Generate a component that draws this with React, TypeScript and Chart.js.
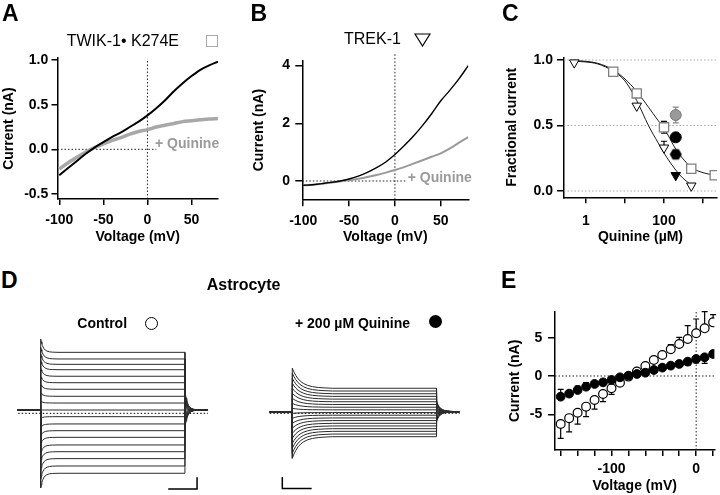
import React, { useEffect, useRef } from "react";
import { Chart, registerables } from "chart.js";

Chart.register(...registerables);

const FONT = "'Liberation Sans', Arial, Helvetica, sans-serif";

// ===== Panels A & B: ramp I-V relations =====
const rampVoltage = [-100, -90, -80, -70, -60, -50, -40, -30, -20, -10, 0, 10, 20, 30, 40, 50, 60, 70, 80];
const twikControl = [-0.29, -0.21, -0.13, -0.05, 0.02, 0.08, 0.14, 0.19, 0.25, 0.31, 0.38, 0.46, 0.55, 0.65, 0.74, 0.82, 0.89, 0.94, 0.98];
const twikQuinine = [-0.22, -0.15, -0.09, -0.03, 0.02, 0.06, 0.1, 0.13, 0.17, 0.2, 0.22, 0.25, 0.27, 0.29, 0.31, 0.32, 0.33, 0.34, 0.345];
const trekControl = [-0.15, -0.13, -0.09, -0.05, 0.0, 0.07, 0.17, 0.3, 0.46, 0.66, 0.92, 1.22, 1.55, 1.92, 2.33, 2.78, 3.15, 3.55, 4.0];
const trekQuinine = [-0.15, -0.13, -0.1, -0.06, -0.02, 0.03, 0.08, 0.14, 0.21, 0.29, 0.38, 0.48, 0.6, 0.72, 0.84, 0.96, 1.13, 1.33, 1.52];

// ===== Panel C: dose-response (concentrations in µM) =====
const trekConc = [0.5, 20, 100, 500];
const trekFrac = [0.98, 0.65, 0.33, 0.04];
const trekErrUp = [0, 0, 0.05, 0];
const twikConc = [5, 20, 100, 500, 2000];
const twikFrac = [0.91, 0.745, 0.486, 0.17, 0.12];
const twikErr = [0, 0, 0.045, 0, 0];
const trekFitConc = [0.5, 1, 2, 5, 10, 20, 40, 70, 100, 200, 300, 500];
const trekFitFrac = [0.99, 0.985, 0.97, 0.915, 0.84, 0.69, 0.5, 0.37, 0.29, 0.16, 0.1, 0.045];
const twikFitConc = [0.5, 1, 2, 5, 10, 20, 40, 70, 100, 200, 300, 500, 1000, 2000];
const twikFitFrac = [0.995, 0.99, 0.975, 0.925, 0.855, 0.76, 0.64, 0.54, 0.48, 0.32, 0.25, 0.18, 0.14, 0.12];
const otherConc = 200;
const grayCircleFrac = 0.58;
const grayCircleErr = 0.06;
const blackCircleFrac = 0.41;
const blackHexFrac = 0.28;
const blackTriFrac = 0.12;
const cConcRange = [0.273, 2286];
const cTickLabels = ["1", " ", "100", " "];

// ===== Panel E: astrocyte I-V =====
const stepVoltages = [-160, -150, -140, -130, -120, -110, -100, -90, -80, -70, -60, -50, -40, -30, -20, -10, 0, 10, 20];
const astroControl = [-6.27, -5.5, -4.8, -4.0, -3.13, -2.35, -1.6, -0.87, -0.08, 0.57, 1.3, 2.09, 2.74, 3.48, 4.18, 4.83, 5.57, 6.22, 7.0];
const astroControlErr = [-1.87, -1.8, -1.47, -1.3, -1.2, -1.0, -0.8, -0.3, 0, 0, 0, 0, 0.3, 0.6, 0.87, 1.74, 1.87, 2.17, 1.0];
const astroQuinine = [-2.7, -2.3, -1.83, -1.4, -1.04, -0.83, -0.52, -0.17, 0.04, 0.26, 0.43, 0.78, 1.09, 1.35, 1.57, 1.87, 2.22, 2.44, 2.87];
const astroQuinineErr = [0.96, 0, 0.52, 0.53, 0.2, 0, 0, 0, 0, 0, 0, 0, 0, 0, -0.3, -0.44, -0.5, -0.79, 0];

// ===== Panel D: current traces (nA vs ms) =====
const protocolTimes = [-40, 0, 250, 290]; // holding start, step on, step off, end
const controlHold = 0.36;
const controlLevels = [-6.59, -5.79, -4.98, -4.22, -3.48, -2.64, -1.91, -1.17, -0.37, 0.36, 1.13, 1.87, 2.64, 3.36, 4.07, 4.79, 5.38, 5.97, 6.7];
const controlPeaks = [-8.19, -7.2, -6.21, -5.27, -4.36, -3.33, -2.43, -1.52, -0.54, 0.36, 1.31, 2.22, 3.16, 4.05, 4.92, 5.81, 6.53, 7.26, 8.16];
const quinineHold = 0.18;
const quinineLevels = [-2.57, -2.28, -1.98, -1.69, -1.39, -1.1, -0.8, -0.51, -0.21, 0.08, 0.38, 0.67, 0.97, 1.27, 1.56, 1.86, 2.15, 2.45, 2.75];
const quininePeaks = [-4.94, -4.4, -3.84, -3.3, -2.74, -2.2, -1.64, -1.1, -0.55, -0.01, 0.55, 1.09, 1.65, 2.21, 2.75, 3.3, 3.84, 4.4, 4.96];
const controlDecayT = [0, 1, 2, 3, 4, 6, 8, 11, 15, 20, 30];
const controlDecayF = [1, 0.8, 0.64, 0.51, 0.41, 0.26, 0.17, 0.09, 0.04, 0.015, 0];
const quinineDecayT = [0, 3, 6, 10, 15, 20, 27, 35, 45, 55, 70];
const quinineDecayF = [1, 0.8, 0.64, 0.47, 0.33, 0.23, 0.14, 0.08, 0.04, 0.02, 0];
const quinineTailT = [0, 2, 4, 7, 10, 14, 19, 25, 32, 40];
const quinineTailF = [1, 0.7, 0.5, 0.32, 0.2, 0.11, 0.055, 0.025, 0.01, 0];
const controlTailScale = 1.3;
const quinineTailScale = 0.5;
const controlScaleBarT = [221, 271];
const controlScaleBarI = [-8.32, -7.03];
const quinineScaleBarT = [-17.3, 33.6];
const quinineScaleBarI = [-8.27, -6.99];

// ---------- helpers ----------
const tickFont = { family: FONT, size: 14, weight: "bold" as const };
const titleFont = { family: FONT, size: 14, weight: "bold" as const, lineHeight: 1.2 };

const pts = (xs: number[], ys: number[]) => xs.map((x, i) => ({ x, y: ys[i] }));
// decades axis for panel C: x is log10(concentration)
const logPts = (xs: number[], ys: number[]) => xs.map((x, i) => ({ x: Math.log10(x), y: ys[i] }));

type AxisOpts = {
  min: number;
  max: number;
  step: number;
  size: number;
  tickLen: number;
  labelPad: number;
  title: string;
  titlePad: number;
  horizontal: boolean;
  fmt: (v: number, i: number) => string;
};

function axis(o: AxisOpts) {
  return {
    type: "linear",
    min: o.min,
    max: o.max,
    border: { display: true, color: "#000", width: 1.5 },
    grid: {
      display: true,
      drawOnChartArea: false,
      drawTicks: true,
      tickLength: o.tickLen,
      tickColor: "#000",
      tickWidth: 1.5,
      color: "#000",
      lineWidth: 1.5,
    },
    ticks: {
      stepSize: o.step,
      includeBounds: false,
      autoSkip: false,
      maxRotation: 0,
      minRotation: 0,
      padding: o.labelPad,
      color: "#000",
      font: tickFont,
      callback: (v: any, i: number) => o.fmt(Number(v), i),
    },
    title: {
      display: true,
      text: o.title,
      color: "#000",
      font: titleFont,
      padding: o.horizontal ? { top: 0, bottom: o.titlePad } : { top: o.titlePad, bottom: 0 },
    },
    afterFit: (s: any) => {
      if (o.horizontal) s.height = o.size;
      else s.width = o.size;
    },
  };
}

const errorBarPlugin = {
  id: "errorBars",
  beforeDatasetsDraw(chart: any) {
    const ctx = chart.ctx;
    chart.data.datasets.forEach((ds: any, i: number) => {
      if (!ds.errBars) return;
      const meta = chart.getDatasetMeta(i);
      const xs = chart.scales[meta.xAxisID];
      const ys = chart.scales[meta.yAxisID];
      ctx.save();
      ctx.strokeStyle = ds.errColor || "#000";
      ctx.lineWidth = 1.2;
      ds.data.forEach((p: any, j: number) => {
        const offs: number[] = ds.errBars[j] || [];
        offs.forEach((e) => {
          if (!e) return;
          const px = xs.getPixelForValue(p.x);
          const y0 = ys.getPixelForValue(p.y);
          const y1 = ys.getPixelForValue(p.y + e);
          ctx.beginPath();
          ctx.moveTo(px, y0);
          ctx.lineTo(px, y1);
          ctx.moveTo(px - 3, y1);
          ctx.lineTo(px + 3, y1);
          ctx.stroke();
        });
      });
      ctx.restore();
    });
  },
};

function baseOptions(padRight: number, padTop: number, scales: any) {
  return {
    animation: false,
    responsive: false,
    maintainAspectRatio: false,
    devicePixelRatio: 1,
    events: [],
    layout: { autoPadding: false, padding: { left: 0, right: padRight, top: padTop, bottom: 0 } },
    plugins: { legend: { display: false }, tooltip: { enabled: false }, title: { display: false } },
    elements: { point: { radius: 0 } },
    scales,
  };
}

const dotted = (data: any[], color = "#222", clip: any = undefined) => ({
  data,
  borderColor: color,
  borderWidth: 1,
  borderDash: [1.5, 2],
  pointRadius: 0,
  tension: 0,
  ...(clip === undefined ? {} : { clip }),
});

const curveOf = (data: any[], color: string, width: number) => ({
  data,
  borderColor: color,
  borderWidth: width,
  pointRadius: 0,
  cubicInterpolationMode: "monotone",
});

// ---------- chart configs ----------
function configA() {
  return {
    type: "line",
    data: {
      datasets: [
        curveOf(pts(rampVoltage, twikControl), "#000", 2),
        curveOf(pts(rampVoltage, twikQuinine), "#a8a8a8", 3.5),
        dotted([{ x: 0, y: -0.556 }, { x: 0, y: 1.0 }]),
        dotted([{ x: -102, y: 0 }, { x: 10, y: 0 }]),
      ],
    },
    options: baseOptions(22, 58.2, {
      x: axis({ min: -102, max: 80, step: 50, size: 56, tickLen: 6, labelPad: 6.6, title: "Voltage (mV)", titlePad: 9.1, horizontal: true, fmt: (v) => String(Math.round(v)) }),
      y: axis({ min: -0.556, max: 1.02, step: 0.5, size: 57.5, tickLen: 6, labelPad: 3.2, title: "Current (nA)", titlePad: 1.1, horizontal: false, fmt: (v) => v.toFixed(1) }),
    }),
  };
}

function configB() {
  return {
    type: "line",
    data: {
      datasets: [
        curveOf(pts(rampVoltage, trekControl), "#000", 1.4),
        curveOf(pts(rampVoltage, trekQuinine), "#9a9a9a", 2),
        dotted([{ x: 0, y: -0.635 }, { x: 0, y: 4.4 }], "#222", false),
        dotted([{ x: -101, y: 0 }, { x: 13, y: 0 }]),
      ],
    },
    options: baseOptions(6.7, 61, {
      x: axis({ min: -101, max: 80, step: 50, size: 55.7, tickLen: 7, labelPad: 6.1, title: "Voltage (mV)", titlePad: 9.1, horizontal: true, fmt: (v) => String(Math.round(v)) }),
      y: axis({ min: -0.635, max: 4.16, step: 2, size: 62.3, tickLen: 7, labelPad: 5.3, title: "Current (nA)", titlePad: 10.9, horizontal: false, fmt: (v) => String(Math.round(v)) }),
    }),
  };
}

function hexagonImage(r: number, color: string) {
  const c = document.createElement("canvas");
  const s = Math.ceil(2 * r + 2);
  c.width = s;
  c.height = s;
  const g = c.getContext("2d")!;
  g.fillStyle = color;
  g.beginPath();
  for (let k = 0; k < 6; k++) {
    const a = (Math.PI / 3) * k;
    const px = s / 2 + r * Math.cos(a);
    const py = s / 2 + r * Math.sin(a);
    if (k === 0) g.moveTo(px, py);
    else g.lineTo(px, py);
  }
  g.closePath();
  g.fill();
  return c;
}

function configC() {
  const xMin = Math.log10(cConcRange[0]);
  const xMax = Math.log10(cConcRange[1]);
  return {
    type: "line",
    data: {
      datasets: [
        {
          data: logPts([otherConc], [blackTriFrac]),
          showLine: false,
          pointStyle: "triangle",
          pointRotation: 180,
          pointRadius: 5.5,
          pointBackgroundColor: "#000",
          pointBorderColor: "#000",
          pointBorderWidth: 1,
        },
        {
          data: logPts([otherConc], [blackHexFrac]),
          showLine: false,
          pointStyle: hexagonImage(6, "#000"),
          pointRadius: 6,
        },
        {
          data: logPts([otherConc], [blackCircleFrac]),
          showLine: false,
          pointStyle: "circle",
          pointRadius: 5.5,
          pointBackgroundColor: "#000",
          pointBorderColor: "#000",
        },
        {
          data: logPts([otherConc], [grayCircleFrac]),
          showLine: false,
          pointStyle: "circle",
          pointRadius: 5.5,
          pointBackgroundColor: "#9a9a9a",
          pointBorderColor: "#777",
          pointBorderWidth: 1,
          errBars: [[grayCircleErr, -grayCircleErr]],
          errColor: "#888",
        },
        {
          data: logPts(twikConc, twikFrac),
          showLine: false,
          pointStyle: "rect",
          pointRadius: 6.5,
          pointBackgroundColor: "#fff",
          pointBorderColor: "#808080",
          pointBorderWidth: 1.3,
          errBars: twikErr.map((e) => [e, -e]),
        },
        {
          data: logPts(trekConc, trekFrac),
          showLine: false,
          pointStyle: "triangle",
          pointRotation: 180,
          pointRadius: 5.5,
          pointBackgroundColor: "#fff",
          pointBorderColor: "#000",
          pointBorderWidth: 1,
          errBars: trekErrUp.map((e) => [e]),
        },
        curveOf(logPts(trekFitConc, trekFitFrac), "#000", 0.9),
        curveOf(logPts(twikFitConc, twikFitFrac), "#000", 0.9),
        dotted([{ x: xMin, y: 1 }, { x: xMax, y: 1 }], "#aaa"),
        dotted([{ x: xMin, y: 0.5 }, { x: xMax, y: 0.5 }], "#aaa"),
        dotted([{ x: xMin, y: 0 }, { x: xMax, y: 0 }], "#aaa"),
      ],
    },
    options: baseOptions(3, 57.4, {
      x: axis({
        min: xMin,
        max: xMax,
        step: 1,
        size: 57.7,
        tickLen: 6,
        labelPad: 9,
        title: "Quinine (µM)",
        titlePad: 9.9,
        horizontal: true,
        fmt: (_v, i) => cTickLabels[i] ?? " ",
      }),
      y: axis({ min: -0.048, max: 1.02, step: 0.5, size: 94, tickLen: 7, labelPad: 4, title: "Fractional current", titlePad: 33.3, horizontal: false, fmt: (v) => v.toFixed(1) }),
    }),
  };
}

function configE() {
  return {
    type: "line",
    data: {
      datasets: [
        {
          data: pts(stepVoltages, astroQuinine),
          showLine: false,
          pointStyle: "circle",
          pointRadius: 4.4,
          pointBackgroundColor: "#000",
          pointBorderColor: "#000",
          pointBorderWidth: 1,
          errBars: astroQuinineErr.map((e) => [e]),
        },
        {
          data: pts(stepVoltages, astroControl),
          showLine: false,
          pointStyle: "circle",
          pointRadius: 4.4,
          pointBackgroundColor: "#fff",
          pointBorderColor: "#000",
          pointBorderWidth: 1.2,
          errBars: astroControlErr.map((e) => [e]),
        },
        dotted([{ x: -166.7, y: 0 }, { x: 21.5, y: 0 }]),
        dotted([{ x: 0, y: -9.66 }, { x: 0, y: 8.39 }]),
      ],
    },
    options: baseOptions(5, 21.7, {
      x: axis({ min: -166.7, max: 21.5, step: 20, size: 45, tickLen: 6, labelPad: 4.9, title: "Voltage (mV)", titlePad: 0, horizontal: true, fmt: (v) => (Math.round(v) % 100 === 0 ? String(Math.round(v)) : " ") }),
      y: axis({ min: -9.66, max: 8.39, step: 5, size: 75, tickLen: 7, labelPad: 5.7, title: "Current (nA)", titlePad: 26.6, horizontal: false, fmt: (v) => String(Math.round(v)) }),
    }),
  };
}

function buildTrace(level: number, peak: number, hold: number, dT: number[], dF: number[], tT: number[], tF: number[], tailScale: number) {
  const [tStart, tOn, tOff, tEnd] = protocolTimes;
  const out: { x: number; y: number }[] = [
    { x: tStart, y: hold },
    { x: tOn, y: hold },
  ];
  dT.forEach((t, k) => out.push({ x: tOn + t, y: level + (peak - level) * dF[k] }));
  out.push({ x: tOff, y: level });
  const tail0 = hold - (peak - level) * tailScale;
  tT.forEach((t, k) => out.push({ x: tOff + t, y: hold + (tail0 - hold) * tF[k] }));
  out.push({ x: tEnd, y: hold });
  return out;
}

function configD(
  levels: number[],
  peaks: number[],
  hold: number,
  dT: number[],
  dF: number[],
  tT: number[],
  tF: number[],
  tailScale: number,
  barT: number[],
  barI: number[],
  barCornerRight: boolean,
  xMin: number,
  xMax: number
) {
  const traces = levels.map((L, i) => ({
    data: buildTrace(L, peaks[i], hold, dT, dF, tT, tF, tailScale),
    borderColor: "#2b2b2b",
    borderWidth: 1,
    pointRadius: 0,
    tension: 0,
  }));
  const bar = barCornerRight
    ? [
        { x: barT[0], y: barI[0] },
        { x: barT[1], y: barI[0] },
        { x: barT[1], y: barI[1] },
      ]
    : [
        { x: barT[0], y: barI[1] },
        { x: barT[0], y: barI[0] },
        { x: barT[1], y: barI[0] },
      ];
  return {
    type: "line",
    data: {
      datasets: [
        ...traces,
        dotted([{ x: protocolTimes[0] + 1, y: 0 }, { x: protocolTimes[3], y: 0 }], "#000"),
        { data: bar, borderColor: "#000", borderWidth: 1.5, pointRadius: 0, tension: 0 },
      ],
    },
    options: {
      ...baseOptions(0, 0, {
        x: { type: "linear", display: false, min: xMin, max: xMax },
        y: { type: "linear", display: false, min: -8.978, max: 9.154 },
      }),
    },
  };
}

// ---------- components ----------
function ChartBox({ left, top, width, height, make }: { left: number; top: number; width: number; height: number; make: () => any }) {
  const ref = useRef<HTMLCanvasElement>(null);
  useEffect(() => {
    const cfg = make();
    cfg.plugins = [errorBarPlugin];
    const chart = new Chart(ref.current as HTMLCanvasElement, cfg);
    return () => chart.destroy();
  }, []);
  return <canvas ref={ref} width={width} height={height} style={{ position: "absolute", left, top, width, height }} />;
}

function Txt({ x, base, size, bold, color, children }: { x: number; base: number; size: number; bold?: boolean; color?: string; children: React.ReactNode }) {
  return (
    <div
      style={{
        position: "absolute",
        left: x,
        top: base - 0.8465 * size,
        fontFamily: FONT,
        fontSize: size,
        fontWeight: bold ? 700 : 400,
        lineHeight: `${size}px`,
        color: color ?? "#000",
        whiteSpace: "nowrap",
      }}
    >
      {children}
    </div>
  );
}

export default function App() {
  return (
    <div style={{ position: "fixed", left: 0, top: 0, width: 720, height: 495, background: "#fff", overflow: "hidden" }}>
      <ChartBox left={0} top={0} width={240} height={255} make={configA} />
      <ChartBox left={240} top={0} width={235} height={255} make={configB} />
      <ChartBox left={470} top={0} width={250} height={255} make={configC} />
      <ChartBox
        left={10}
        top={330}
        width={205}
        height={165}
        make={() => configD(controlLevels, controlPeaks, controlHold, controlDecayT, controlDecayF, controlDecayT, controlDecayF, controlTailScale, controlScaleBarT, controlScaleBarI, true, -53.2, 302.1)}
      />
      <ChartBox
        left={262}
        top={330}
        width={208}
        height={165}
        make={() => configD(quinineLevels, quininePeaks, quinineHold, quinineDecayT, quinineDecayF, quinineTailT, quinineTailF, quinineTailScale, quinineScaleBarT, quinineScaleBarI, false, -52.5, 308)}
      />
      <ChartBox left={480} top={290} width={240} height={205} make={configE} />

      {/* panel letters */}
      <Txt x={2} base={21.7} size={23} bold>A</Txt>
      <Txt x={250.5} base={21.7} size={23} bold>B</Txt>
      <Txt x={502} base={21.7} size={23} bold>C</Txt>
      <Txt x={1} base={288.5} size={23} bold>D</Txt>
      <Txt x={501} base={288.5} size={23} bold>E</Txt>

      {/* panel titles */}
      <Txt x={66.7} base={46.7} size={16}>TWIK-1• K274E</Txt>
      <div style={{ position: "absolute", left: 205.7, top: 35, width: 12.5, height: 12, border: "1.5px solid #aaa", boxSizing: "border-box" }} />
      <Txt x={344} base={45} size={16}>TREK-1</Txt>
      <svg style={{ position: "absolute", left: 414, top: 33 }} width={17} height={14}>
        <polygon points="1,1 16,1 8.5,13" fill="#fff" stroke="#000" strokeWidth={1.2} />
      </svg>
      <Txt x={155} base={148.3} size={14} bold color="#9a9a9a">+ Quinine</Txt>
      <Txt x={407.7} base={181.7} size={14} bold color="#9a9a9a">+ Quinine</Txt>

      <Txt x={206.7} base={291} size={16} bold>Astrocyte</Txt>
      <Txt x={77.3} base={328.3} size={14} bold>Control</Txt>
      <div style={{ position: "absolute", left: 145, top: 317, width: 13, height: 13, borderRadius: "50%", border: "1.2px solid #000", boxSizing: "border-box" }} />
      <Txt x={295} base={328.3} size={14} bold>+ 200 µM Quinine</Txt>
      <div style={{ position: "absolute", left: 428.5, top: 315.2, width: 13, height: 13, borderRadius: "50%", background: "#000" }} />
    </div>
  );
}
